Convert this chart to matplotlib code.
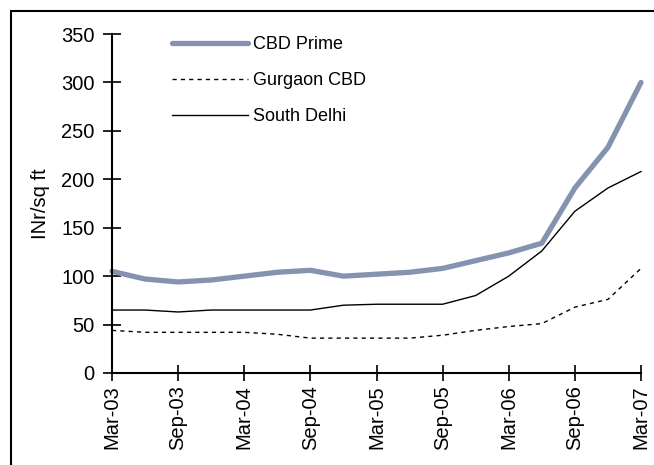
import matplotlib.pyplot as plt
from matplotlib.patches import Rectangle

plt.rcParams['font.family'] = ['Liberation Sans', 'DejaVu Sans']

quarters = ['Mar-03', 'Jun-03', 'Sep-03', 'Dec-03', 'Mar-04', 'Jun-04', 'Sep-04', 'Dec-04',
            'Mar-05', 'Jun-05', 'Sep-05', 'Dec-05', 'Mar-06', 'Jun-06', 'Sep-06', 'Dec-06', 'Mar-07']
cbd_prime = [105, 97, 94, 96, 100, 104, 106, 100, 102, 104, 108, 116, 124, 134, 191, 233, 300]
gurgaon_cbd = [44, 42, 42, 42, 42, 40, 36, 36, 36, 36, 39, 44, 48, 51, 68, 76, 108]
south_delhi = [65, 65, 63, 65, 65, 65, 65, 70, 71, 71, 71, 80, 100, 126, 167, 191, 208]

x = list(range(len(quarters)))

fig = plt.figure(figsize=(6.54, 4.65), dpi=100)
ax = fig.add_axes([112/654, 1 - 373/465, (641 - 112)/654, (373 - 34)/465])

ax.plot(x, cbd_prime, color='#8592b0', lw=3.8, solid_capstyle='round', label='CBD Prime', clip_on=False)
ax.plot(x, gurgaon_cbd, color='black', lw=1.0, dashes=(3, 3), label='Gurgaon CBD', clip_on=False)
ax.plot(x, south_delhi, color='black', lw=1.0, label='South Delhi', clip_on=False)

ax.set_xlim(0, len(quarters) - 1)
ax.set_ylim(0, 350)
ax.set_yticks(range(0, 351, 50))
ax.set_xticks(x[::2])
ax.set_xticklabels(quarters[::2], rotation=90, fontsize=14.5)
ax.tick_params(axis='y', labelsize=14.5, direction='inout', length=13, width=1.2, pad=6)
ax.tick_params(axis='x', direction='inout', length=12, width=1.2, pad=3)
for s in ['top', 'right']:
    ax.spines[s].set_visible(False)
for s in ['left', 'bottom']:
    ax.spines[s].set_linewidth(1.5)
ax.set_ylabel('INr/sq ft', fontsize=14.5, labelpad=8)

ax.legend(loc='upper left', bbox_to_anchor=(172/654, 1 - 36/465), bbox_transform=fig.transFigure,
          frameon=False, fontsize=13, handlelength=4.2, handletextpad=0.3,
          labelspacing=1.05, borderpad=0, borderaxespad=0)

# outer frame, open on the right and bottom
fig.patches.append(Rectangle((11/654, -0.1), 1.2, 1.1 - 11/465, transform=fig.transFigure,
                             fill=False, edgecolor='black', lw=1.5))

fig.savefig('out.png', dpi=100)
